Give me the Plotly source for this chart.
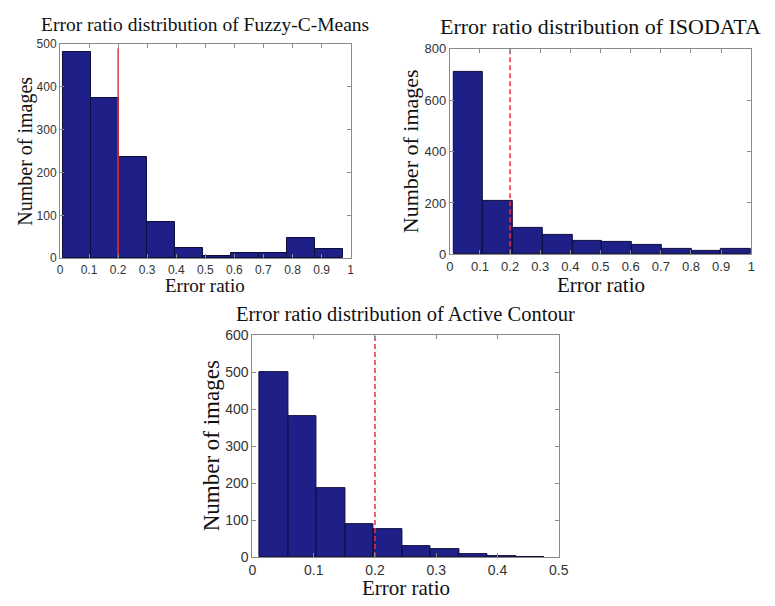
import plotly.graph_objects as go

W, H = 775, 606

# ---- histogram data (counts per bin) ----
fcm_counts = [482, 374, 237, 85, 24, 4, 11, 13, 46, 21]
fcm_bin_start, fcm_bin_width = 0.01, 0.0963

iso_counts = [712, 207, 102, 76, 51, 48, 36, 23, 15, 23]
iso_bin_start, iso_bin_width = 0.012, 0.0987

ac_counts = [500, 382, 187, 89, 75, 30, 22, 8, 2, 1]
ac_bin_start, ac_bin_width = 0.012, 0.0465

# threshold line (x) and its vertical extent per panel
threshold = 0.2
fcm_line_y = [0, 490]
iso_line_y = [0, 800]
ac_line_y = [0, 600]

# axis ticks
fcm_xticks = [0, 0.1, 0.2, 0.3, 0.4, 0.5, 0.6, 0.7, 0.8, 0.9, 1]
fcm_yticks = [0, 100, 200, 300, 400, 500]
iso_xticks = [0, 0.1, 0.2, 0.3, 0.4, 0.5, 0.6, 0.7, 0.8, 0.9, 1]
iso_yticks = [0, 200, 400, 600, 800]
ac_xticks = [0, 0.1, 0.2, 0.3, 0.4, 0.5]
ac_yticks = [0, 100, 200, 300, 400, 500, 600]

titles = ["Error ratio distribution of Fuzzy-C-Means",
          "Error ratio distribution of ISODATA",
          "Error ratio distribution of Active Contour"]

BAR_FILL = "#1f1f88"
BAR_EDGE = "#0c0c3c"
LINE_RED = "#e8333a"
SERIF = "Liberation Serif, Times New Roman, serif"
SANS = "Liberation Sans, Arial, sans-serif"


def px_x(x):
    return x / W


def px_y(y):
    return 1 - y / H


def fmt(v):
    return "%g" % v


# plot boxes in pixels: (left, top, right, bottom)
boxes = [(57, 37, 353, 257), (454, 42, 761, 253), (253, 336, 565, 564)]

# per-panel text sizes: title, axis titles, tick labels
title_size = [19.5, 22, 20.5]
xlabel_size = [19, 21, 21]
ylabel_size = [20, 22, 23]
tick_size = [12, 13, 14]
# offsets (px) of the axis titles from the plot box
ylabel_off = [35, 40, 42]
xlabel_off = [28, 31, 32]
title_off = [20, 23, 22]

panels = [
    (fcm_counts, fcm_bin_start, fcm_bin_width, fcm_line_y, "solid", fcm_xticks, fcm_yticks, [0, 1], [0, 500]),
    (iso_counts, iso_bin_start, iso_bin_width, iso_line_y, "5px,3px", iso_xticks, iso_yticks, [0, 1], [0, 800]),
    (ac_counts, ac_bin_start, ac_bin_width, ac_line_y, "5px,3px", ac_xticks, ac_yticks, [0, 0.5], [0, 600]),
]

fig = go.Figure()
layout = {}
annotations = []

for i, (counts, start, width, line_y, dash, xt, yt, xr, yr) in enumerate(panels):
    n = i + 1
    xa = "x" if n == 1 else f"x{n}"
    ya = "y" if n == 1 else f"y{n}"
    centers = [start + width * (k + 0.5) for k in range(len(counts))]
    fig.add_trace(go.Bar(
        x=centers, y=counts, width=[width] * len(counts),
        marker=dict(color=BAR_FILL, line=dict(color=BAR_EDGE, width=1)),
        xaxis=xa, yaxis=ya, showlegend=False, hoverinfo="x+y",
    ))
    fig.add_trace(go.Scatter(
        x=[threshold, threshold], y=line_y, mode="lines",
        line=dict(color=LINE_RED, width=1.5, dash=dash),
        xaxis=xa, yaxis=ya, showlegend=False, hoverinfo="skip",
    ))

    l, t, r, b = boxes[i]
    axis_common = dict(
        showline=True, linecolor="#8a8a8a", linewidth=1, mirror="ticks",
        ticks="inside", ticklen=4, tickcolor="#8a8a8a",
        showgrid=False, zeroline=False,
        tickfont=dict(family=SANS, size=tick_size[i], color="#333333"),
    )
    xkey = "xaxis" if n == 1 else f"xaxis{n}"
    ykey = "yaxis" if n == 1 else f"yaxis{n}"
    layout[xkey] = dict(axis_common, domain=[px_x(l), px_x(r)], range=xr,
                        anchor=ya, tickvals=xt, ticktext=[fmt(v) for v in xt])
    layout[ykey] = dict(axis_common, domain=[px_y(b), px_y(t)], range=yr,
                        anchor=xa, tickvals=yt, ticktext=[fmt(v) for v in yt])

    cx = (l + r) / 2
    cy = (t + b) / 2
    annotations.append(dict(text=titles[i], x=px_x(cx), y=px_y(t - title_off[i]),
                            xref="paper", yref="paper", showarrow=False,
                            xanchor="center", yanchor="middle", borderpad=0,
                            font=dict(family=SERIF, size=title_size[i], color="#111111")))
    annotations.append(dict(text="Error ratio", x=px_x(cx), y=px_y(b + xlabel_off[i]),
                            xref="paper", yref="paper", showarrow=False,
                            xanchor="center", yanchor="middle", borderpad=0,
                            font=dict(family=SERIF, size=xlabel_size[i], color="#111111")))
    annotations.append(dict(text="Number of images", x=px_x(l - ylabel_off[i]), y=px_y(cy),
                            xref="paper", yref="paper", showarrow=False,
                            textangle=-90, xanchor="center", yanchor="middle", borderpad=0,
                            font=dict(family=SERIF, size=ylabel_size[i], color="#111111")))

fig.update_layout(
    width=W, height=H,
    margin=dict(l=0, r=0, t=0, b=0),
    paper_bgcolor="white", plot_bgcolor="white",
    bargap=0, annotations=annotations,
    **layout,
)

fig.write_html("out.html")
